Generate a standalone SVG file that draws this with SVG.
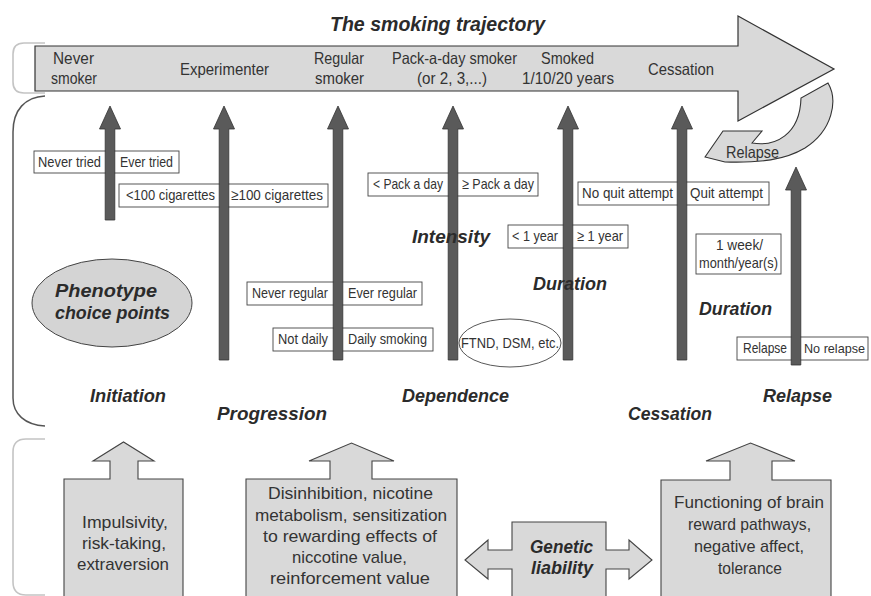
<svg xmlns="http://www.w3.org/2000/svg" width="871" height="596" viewBox="0 0 871 596">
<style>
text{font-family:"Liberation Sans",Arial,sans-serif;fill:#333;}
.s{font-size:16.5px;}
.bx{font-size:15px;}
.bt{font-size:17px;}
.bi{font-weight:bold;font-style:italic;font-size:19px;fill:#2b2b2b;}
.box{fill:#fff;stroke:#444;stroke-width:0.9;}
.light{fill:#d9d9d9;stroke:#444;stroke-width:1.1;}
.dark{fill:#5a5a5a;stroke:#333;stroke-width:0.8;}
.brl{fill:none;stroke:#c4c4c4;stroke-width:1.6;}
.brd{fill:none;stroke:#555;stroke-width:1.5;}
</style>
<rect width="871" height="596" fill="#fff"/>

<g id="brackets">
<path class="brl" d="M45,43 L24,43 Q13,43 13,54 L13,82 Q13,93 24,93 L45,93"/>
<path class="brd" d="M45,96 C25,97 13,110 13,132 L13,398 C13,414 25,425 45,426"/>
<path class="brl" d="M45,439 L26,439 Q13,439 13,452 L13,582 Q13,595 26,595 L45,595"/>
</g>

<g id="title">
<text class="bi" x="330" y="31" textLength="215" lengthAdjust="spacingAndGlyphs" style="font-size:19.5px">The smoking trajectory</text>
</g>

<g id="trajectory">
<path class="light" d="M35,46 L738,46 L738,16 L834,69 L738,121 L738,91 L35,91 Z" style="stroke:#333;stroke-width:1.2"/>
<text class="s" x="53" y="64" textLength="41" lengthAdjust="spacingAndGlyphs">Never</text>
<text class="s" x="51" y="84" textLength="46" lengthAdjust="spacingAndGlyphs">smoker</text>
<text class="s" x="180" y="75" textLength="89" lengthAdjust="spacingAndGlyphs">Experimenter</text>
<text class="s" x="314" y="64" textLength="50" lengthAdjust="spacingAndGlyphs">Regular</text>
<text class="s" x="315" y="84" textLength="49" lengthAdjust="spacingAndGlyphs">smoker</text>
<text class="s" x="392" y="64" textLength="125" lengthAdjust="spacingAndGlyphs">Pack-a-day smoker</text>
<text class="s" x="417" y="84" textLength="70" lengthAdjust="spacingAndGlyphs">(or 2, 3,...)</text>
<text class="s" x="541" y="64" textLength="53" lengthAdjust="spacingAndGlyphs">Smoked</text>
<text class="s" x="522" y="84" textLength="92" lengthAdjust="spacingAndGlyphs">1/10/20 years</text>
<text class="s" x="648" y="75" textLength="66" lengthAdjust="spacingAndGlyphs">Cessation</text>
</g>

<g id="relapse-loop">
<path class="light" d="M705,157 L723,131 L762,131 L752,143 C775,147 800,135 801,98 L828,83 C838,100 833,130 805,148 C785,160 760,163 725,162 Z" style="stroke:#333"/>
<text class="s" x="726" y="158" textLength="53" lengthAdjust="spacingAndGlyphs">Relapse</text>
</g>

<g id="phenotype">
<ellipse cx="112" cy="303" rx="80" ry="44" fill="#d4d4d4" stroke="#444" stroke-width="1"/>
<text class="bi" x="55" y="297" textLength="102" lengthAdjust="spacingAndGlyphs">Phenotype</text>
<text class="bi" x="55" y="319" textLength="115" lengthAdjust="spacingAndGlyphs">choice points</text>
</g>

<g id="box-tried">
<rect class="box" x="34" y="151" width="145" height="22"/>
<text class="bx" x="38" y="167" textLength="63" lengthAdjust="spacingAndGlyphs">Never tried</text>
<text class="bx" x="120" y="167" textLength="53" lengthAdjust="spacingAndGlyphs">Ever tried</text>
</g>
<g id="box-cigs">
<rect class="box" x="119" y="184" width="209" height="23"/>
<text class="bx" x="126" y="200" textLength="89" lengthAdjust="spacingAndGlyphs">&lt;100 cigarettes</text>
<text class="bx" x="231" y="200" textLength="92" lengthAdjust="spacingAndGlyphs">≥100 cigarettes</text>
</g>
<g id="box-pack">
<rect class="box" x="368" y="173" width="170" height="23"/>
<text class="bx" x="373" y="189" textLength="70" lengthAdjust="spacingAndGlyphs">&lt; Pack a day</text>
<text class="bx" x="462" y="189" textLength="72" lengthAdjust="spacingAndGlyphs">≥ Pack a day</text>
</g>
<g id="box-quit">
<rect class="box" x="578" y="182" width="191" height="23"/>
<text class="bx" x="582" y="198" textLength="91" lengthAdjust="spacingAndGlyphs">No quit attempt</text>
<text class="bx" x="690" y="198" textLength="73" lengthAdjust="spacingAndGlyphs">Quit attempt</text>
</g>
<g id="box-year">
<rect class="box" x="508" y="225" width="120" height="23"/>
<text class="bx" x="512" y="241" textLength="46" lengthAdjust="spacingAndGlyphs">&lt; 1 year</text>
<text class="bx" x="577" y="241" textLength="46" lengthAdjust="spacingAndGlyphs">≥ 1 year</text>
</g>
<g id="box-week">
<rect class="box" x="696" y="234" width="85" height="40"/>
<text class="bx" x="716" y="250" textLength="47" lengthAdjust="spacingAndGlyphs">1 week/</text>
<text class="bx" x="699" y="268" textLength="79" lengthAdjust="spacingAndGlyphs">month/year(s)</text>
</g>
<g id="box-regular">
<rect class="box" x="247" y="282" width="175" height="23"/>
<text class="bx" x="252" y="298" textLength="76" lengthAdjust="spacingAndGlyphs">Never regular</text>
<text class="bx" x="348" y="298" textLength="69" lengthAdjust="spacingAndGlyphs">Ever regular</text>
</g>
<g id="box-daily">
<rect class="box" x="273" y="328" width="160" height="23"/>
<text class="bx" x="278" y="344" textLength="50" lengthAdjust="spacingAndGlyphs">Not daily</text>
<text class="bx" x="348" y="344" textLength="79" lengthAdjust="spacingAndGlyphs">Daily smoking</text>
</g>
<g id="ftnd">
<ellipse cx="510" cy="343" rx="51" ry="24" fill="#fff" stroke="#444" stroke-width="0.9"/>
<text class="bx" x="461" y="348" textLength="98" lengthAdjust="spacingAndGlyphs">FTND, DSM, etc.</text>
</g>
<g id="box-relapse">
<rect class="box" x="737" y="337" width="131" height="23"/>
<text class="bx" x="743" y="353" textLength="44" lengthAdjust="spacingAndGlyphs">Relapse</text>
<text class="bx" x="804" y="353" textLength="61" lengthAdjust="spacingAndGlyphs" style="font-size:13px">No relapse</text>
</g>

<g id="connectors">
<path class="dark" d="M110,106 L120.5,129 L114.8,129 L114.8,220 L105.2,220 L105.2,129 L99.5,129 Z"/>
<path class="dark" d="M224,106 L234.5,129 L228.8,129 L228.8,360 L219.2,360 L219.2,129 L213.5,129 Z"/>
<path class="dark" d="M338,106 L348.5,129 L342.8,129 L342.8,360 L333.2,360 L333.2,129 L327.5,129 Z"/>
<path class="dark" d="M453,106 L463.5,129 L457.8,129 L457.8,360 L448.2,360 L448.2,129 L442.5,129 Z"/>
<path class="dark" d="M568,106 L578.5,129 L572.8,129 L572.8,360 L563.2,360 L563.2,129 L557.5,129 Z"/>
<path class="dark" d="M682,106 L692.5,129 L686.8,129 L686.8,360 L677.2,360 L677.2,129 L671.5,129 Z"/>
<path class="dark" d="M796,167 L806.5,190 L800.8,190 L800.8,365 L791.2,365 L791.2,190 L785.5,190 Z"/>
</g>

<g id="labels">
<text class="bi" x="412" y="243" textLength="78" lengthAdjust="spacingAndGlyphs">Intensity</text>
<text class="bi" x="533" y="290" textLength="74" lengthAdjust="spacingAndGlyphs">Duration</text>
<text class="bi" x="699" y="315" textLength="73" lengthAdjust="spacingAndGlyphs">Duration</text>
<text class="bi" x="90" y="402" textLength="76" lengthAdjust="spacingAndGlyphs">Initiation</text>
<text class="bi" x="217" y="420" textLength="110" lengthAdjust="spacingAndGlyphs">Progression</text>
<text class="bi" x="402" y="402" textLength="107" lengthAdjust="spacingAndGlyphs">Dependence</text>
<text class="bi" x="628" y="420" textLength="84" lengthAdjust="spacingAndGlyphs">Cessation</text>
<text class="bi" x="763" y="402" textLength="69" lengthAdjust="spacingAndGlyphs">Relapse</text>
</g>

<g id="block-initiation">
<path class="light" d="M64,600 L64,479 L110,479 L110,461 L93,461 L123.5,442 L154,461 L138,461 L138,479 L183,479 L183,600 Z"/>
<text class="bt" x="82" y="528" textLength="86" lengthAdjust="spacingAndGlyphs">Impulsivity,</text>
<text class="bt" x="82" y="549" textLength="84" lengthAdjust="spacingAndGlyphs">risk-taking,</text>
<text class="bt" x="77" y="570" textLength="92" lengthAdjust="spacingAndGlyphs">extraversion</text>
</g>

<g id="block-progression">
<path class="light" d="M246,600 L246,479 L330,479 L330,461 L309,461 L351.5,443 L394,461 L372,461 L372,479 L457,479 L457,600 Z"/>
<text class="bt" x="268" y="499" textLength="165" lengthAdjust="spacingAndGlyphs">Disinhibition, nicotine</text>
<text class="bt" x="255" y="521" textLength="192" lengthAdjust="spacingAndGlyphs">metabolism, sensitization</text>
<text class="bt" x="263" y="542" textLength="174" lengthAdjust="spacingAndGlyphs">to rewarding effects of</text>
<text class="bt" x="292" y="563" textLength="115" lengthAdjust="spacingAndGlyphs">niccotine value,</text>
<text class="bt" x="270" y="584" textLength="160" lengthAdjust="spacingAndGlyphs">reinforcement value</text>
</g>

<g id="genetic-liability">
<path class="light" d="M465,560 L488,540 L488,550 L512,550 L512,522 L606,522 L606,550 L629,550 L629,540 L652,560 L629,579 L629,569 L606,569 L606,600 L512,600 L512,569 L488,569 L488,579 Z"/>
<text class="bi" x="530" y="553" textLength="63" lengthAdjust="spacingAndGlyphs">Genetic</text>
<text class="bi" x="531" y="574" textLength="62" lengthAdjust="spacingAndGlyphs">liability</text>
</g>

<g id="block-cessation">
<path class="light" d="M661,600 L661,480 L730,480 L730,461 L706,461 L750.5,443 L795,461 L772,461 L772,480 L831,480 L831,600 Z"/>
<text class="bt" x="674" y="508" textLength="150" lengthAdjust="spacingAndGlyphs">Functioning of brain</text>
<text class="bt" x="688" y="530" textLength="123" lengthAdjust="spacingAndGlyphs">reward pathways,</text>
<text class="bt" x="694" y="552" textLength="110" lengthAdjust="spacingAndGlyphs">negative affect,</text>
<text class="bt" x="718" y="574" textLength="64" lengthAdjust="spacingAndGlyphs">tolerance</text>
</g>
</svg>
